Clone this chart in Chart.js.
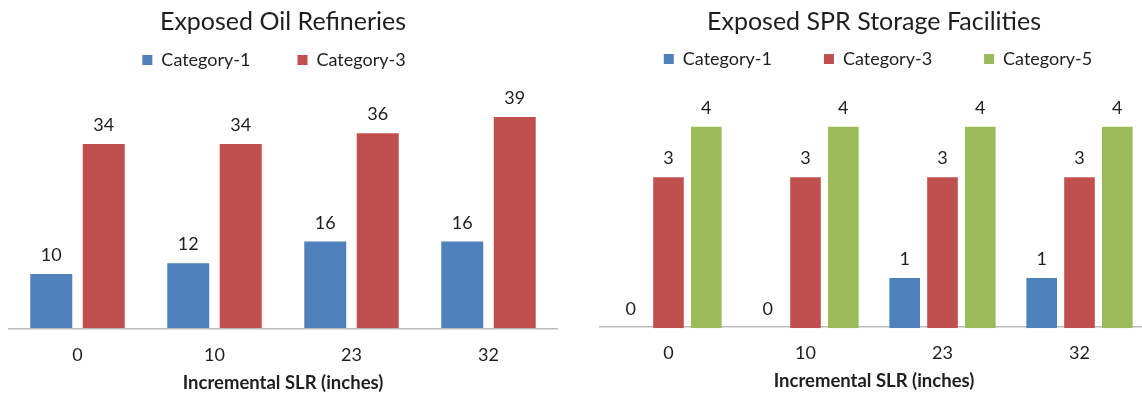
<!DOCTYPE html>
<html>
<head>
<meta charset="utf-8">
<title>Exposed Energy Facilities</title>
<script src="https://cdn.jsdelivr.net/npm/chart.js@4/dist/chart.umd.min.js"></script>
<style>
  html, body { margin: 0; padding: 0; background: #ffffff; overflow: hidden; }
  #wrap { position: relative; width: 1142px; height: 400px; overflow: hidden; }
  .box { position: absolute; top: 0; width: 566px; height: 400px; }
  #left { left: 0; }
  #right { left: 591px; }
</style>
</head>
<body>
<div id="wrap">
  <div class="box" id="left"><canvas id="refineries"></canvas></div>
  <div class="box" id="right"><canvas id="spr"></canvas></div>
</div>
<script>
// Incremental sea-level rise scenarios (inches)
const slrLabels = ['0', '10', '23', '32'];

// Oil refineries exposed, by hurricane category
const refineryCat1 = [10, 12, 16, 16];
const refineryCat3 = [34, 34, 36, 39];

// Strategic Petroleum Reserve storage facilities exposed
const sprCat1 = [0, 0, 1, 1];
const sprCat3 = [3, 3, 3, 3];
const sprCat5 = [4, 4, 4, 4];

const BLUE = '#4F81BD';
const RED = '#C0504D';
const GREEN = '#9BBB59';
const TEXT = '#1e1e1e';
const FONT = 'Lato, "Open Sans", sans-serif';

// Writes each bar's value just above its top
const valueLabels = {
  id: 'valueLabels',
  afterDatasetsDraw(chart) {
    const ctx = chart.ctx;
    ctx.save();
    ctx.font = '18px ' + FONT;
    ctx.fillStyle = TEXT;
    ctx.textAlign = 'center';
    ctx.textBaseline = 'alphabetic';
    chart.data.datasets.forEach((ds, i) => {
      const meta = chart.getDatasetMeta(i);
      if (meta.hidden) return;
      meta.data.forEach((bar, j) => {
        ctx.fillText(String(ds.data[j]), bar.x, bar.y - 13);
      });
    });
    ctx.restore();
  }
};

// Nudges the legend row sideways after layout
const legendShift = {
  id: 'legendShift',
  afterLayout(chart, args, opts) {
    const dx = opts.dx || 0;
    if (chart.legend && dx) {
      chart.legend.left += dx;
      chart.legend.right += dx;
    }
  }
};

function makeChart(id, title, datasets, yMax, catPct, barPct, legendGap, titleGap, legendDx) {
  return new Chart(document.getElementById(id), {
    type: 'bar',
    data: { labels: slrLabels, datasets },
    plugins: [valueLabels, legendShift],
    options: {
      responsive: true,
      maintainAspectRatio: false,
      animation: false,
      events: [],
      layout: { padding: { left: 9, right: 9, top: 0, bottom: 0 } },
      datasets: { bar: { categoryPercentage: catPct, barPercentage: barPct, borderWidth: 0 } },
      plugins: {
        legendShift: { dx: legendDx },
        title: {
          display: true,
          text: title,
          color: TEXT,
          font: { family: FONT, size: 25, weight: 'normal' },
          padding: { top: 6.7, bottom: titleGap }
        },
        legend: {
          display: true,
          position: 'top',
          labels: {
            color: TEXT,
            font: { family: FONT, size: 18 },
            boxWidth: 10,
            boxHeight: 10,
            padding: legendGap
          }
        },
        tooltip: { enabled: false }
      },
      scales: {
        x: {
          grid: { display: false, drawTicks: false },
          border: { display: true, color: '#bcbcbc', width: 1.5 },
          ticks: { color: TEXT, font: { family: FONT, size: 18 }, padding: 15.9 },
          title: {
            display: true,
            text: 'Incremental SLR (inches)',
            color: TEXT,
            font: { family: FONT, size: 18.5, weight: 'bold' },
            padding: { top: -9.5, bottom: 5.6 }
          }
        },
        y: {
          display: false,
          min: 0,
          max: yMax
        }
      }
    }
  });
}

makeChart('refineries', 'Exposed Oil Refineries', [
  { label: 'Category-1', data: refineryCat1, backgroundColor: BLUE },
  { label: 'Category-3', data: refineryCat3, backgroundColor: RED }
], 46, 0.766, 0.8, 47, -32.7, -9);

makeChart('spr', 'Exposed SPR Storage Facilities', [
  { label: 'Category-1', data: sprCat1, backgroundColor: BLUE },
  { label: 'Category-3', data: sprCat3, backgroundColor: RED },
  { label: 'Category-5', data: sprCat5, backgroundColor: GREEN }
], 4.93, 0.828, 0.81, 52, -38.7, 4);
</script>
</body>
</html>
